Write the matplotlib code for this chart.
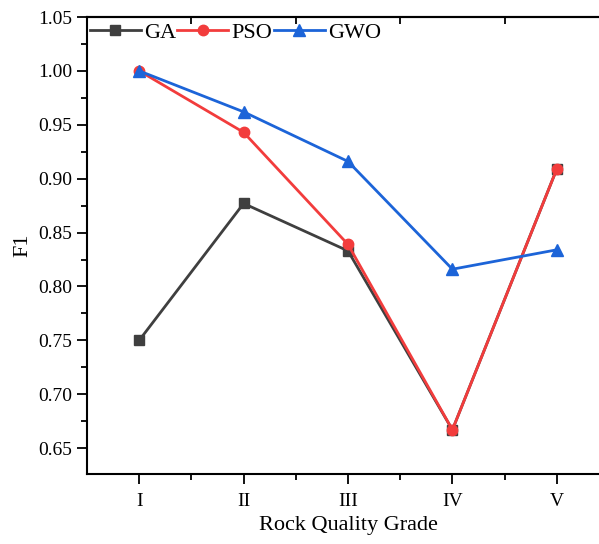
import matplotlib
matplotlib.use('Agg')
import matplotlib.pyplot as plt
from matplotlib.ticker import MultipleLocator, FormatStrFormatter

grades = ['I', 'II', 'III', 'IV', 'V']
ga = [0.750, 0.877, 0.833, 0.667, 0.909]
pso = [1.000, 0.943, 0.839, 0.667, 0.909]
gwo = [1.000, 0.962, 0.916, 0.816, 0.834]

plt.rcParams['font.family'] = ['Liberation Serif', 'DejaVu Serif']

fig = plt.figure(figsize=(5.99, 5.44), dpi=100)
# axes runs a little past the right edge, as in the reference crop
ax = fig.add_axes([87 / 599, 1 - 474 / 544, 522 / 599, 457 / 544])

x = list(range(1, len(grades) + 1))
ax.plot(x, ga, color='#3f3f3f', marker='s', ms=7, lw=2, label='GA')
ax.plot(x, pso, color='#f23c3c', marker='o', ms=7.5, lw=2, label='PSO')
ax.plot(x, gwo, color='#1c64d8', marker='^', ms=8, lw=2, label='GWO')

ax.set_xlim(0.5, 5.5)
ax.set_ylim(0.626, 1.05)
ax.set_xticks(x)
ax.set_xticklabels(grades)
ax.xaxis.set_minor_locator(plt.FixedLocator([1.5, 2.5, 3.5, 4.5]))
ax.yaxis.set_major_locator(MultipleLocator(0.05))
ax.yaxis.set_minor_locator(MultipleLocator(0.025))
ax.yaxis.set_major_formatter(FormatStrFormatter('%.2f'))

ax.tick_params(axis='both', which='major', direction='out', length=7, width=1.3, labelsize=14, colors='black')
ax.tick_params(axis='both', which='minor', direction='out', length=4, width=1.3)
ax.tick_params(axis='x', which='major', pad=7)
for s in ax.spines.values():
    s.set_linewidth(1.5)

# top spine gets inward ticks at the half positions
top = ax.secondary_xaxis('top')
top.set_xticks([1.5, 2.5, 3.5, 4.5])
top.set_xticklabels([])
top.tick_params(direction='in', length=5, width=1.3)
top.spines['top'].set_linewidth(1.5)

ax.set_xlabel('Rock Quality Grade', fontsize=16)
ax.set_ylabel('F1', fontsize=16)

ax.legend(loc='upper left', bbox_to_anchor=(-0.012, 1.008), ncol=3, frameon=False,
          fontsize=16, handlelength=2.3, handletextpad=0.15, columnspacing=0.05,
          borderaxespad=0)

fig.savefig('out.png', dpi=100)
